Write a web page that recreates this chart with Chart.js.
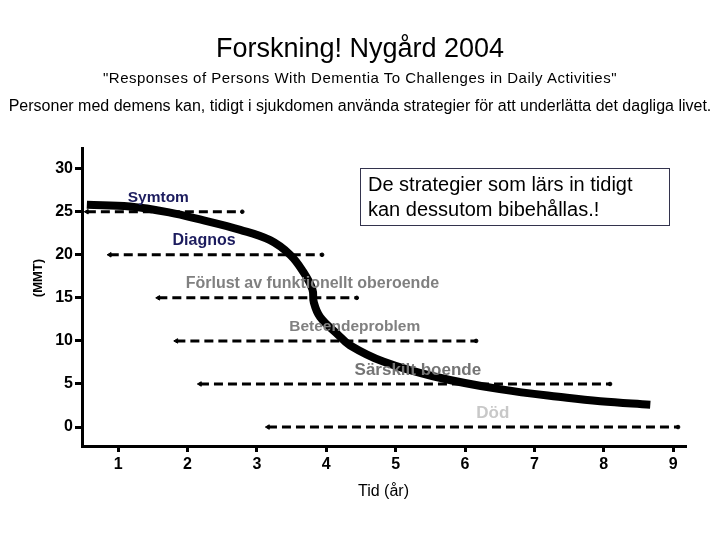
<!DOCTYPE html>
<html>
<head>
<meta charset="utf-8">
<script src="https://cdn.jsdelivr.net/npm/chart.js@4"></script>
<style>
    body { margin: 0; background: #fff; }
    #wrap { position: relative; width: 720px; height: 540px; font-family: "Liberation Sans", Arial, sans-serif; color: #000; }
    #wrap canvas { position: absolute; left: 0; top: 0; }
    .head { position: absolute; left: 0; width: 720px; text-align: center; white-space: nowrap; }
    #title { top: 33px; font-size: 27px; }
    #subtitle { top: 69px; font-size: 15px; letter-spacing: 0.5px; }
    #sentence { top: 97px; font-size: 16px; }
    #note { position: absolute; left: 360px; top: 168px; width: 301px; height: 53px; border: 1px solid #33334d;
            padding-left: 7px; font-size: 20px; line-height: 25px; padding-top: 3px; }
</style>
</head>
<body>
<div id="wrap">
    <canvas id="chart" width="720" height="540"></canvas>
    <div class="head" id="title">Forskning! Nygård 2004</div>
    <div class="head" id="subtitle">"Responses of Persons With Dementia To Challenges in Daily Activities"</div>
    <div class="head" id="sentence">Personer med demens kan, tidigt i sjukdomen använda strategier för att underlätta det dagliga livet.</div>
    <div id="note">De strategier som lärs in tidigt<br>kan dessutom bibehållas.!</div>
</div>
<script>
// axlar
const xTicks = [1, 2, 3, 4, 5, 6, 7, 8, 9];
const yTicks = [0, 5, 10, 15, 20, 25, 30];

// MMT-kurvan (år, poäng)
const curveX = [0.55, 1.17, 1.75, 2.18, 2.76, 3.19, 3.48, 3.67, 3.80, 3.82, 3.91, 4.16, 4.34, 4.82, 5.54, 6.50, 7.47, 7.95, 8.67];
const curveY = [25.8, 25.6, 24.9, 24.1, 22.9, 21.7, 20.0, 18.0, 16.0, 14.5, 12.8, 10.8, 9.5, 7.6, 5.9, 4.4, 3.4, 3.0, 2.6];

// faser (streckade pilar)
const phaseNames = ['Symtom', 'Diagnos', 'Förlust av funktionellt oberoende', 'Beteendeproblem', 'Särskilt boende', 'Död'];
const phaseLevel = [25, 20, 15, 10, 5, 0];
const phaseStart = [0.55, 0.88, 1.58, 1.84, 2.18, 3.16];
const phaseEnd = [2.79, 3.94, 4.44, 6.16, 8.09, 9.07];
const labelAt = [1.58, 2.24, 3.80, 4.41, 5.32, 6.40];

document.addEventListener('DOMContentLoaded', () => {
    const labelColors = ['#1c1c5e', '#1c1c5e', '#808080', '#808080', '#747474', '#c8c8c8'];
    const labelSizes = [15.5, 16, 16, 15.5, 17, 17];

    const phaseSets = phaseNames.map((name, i) => ({
        label: name,
        data: [{ x: phaseStart[i], y: phaseLevel[i] }, { x: phaseEnd[i], y: phaseLevel[i] }],
        borderColor: '#000',
        backgroundColor: '#000',
        borderWidth: 3,
        borderDash: [9, 5],
        pointStyle: ['triangle', 'circle'],
        pointRotation: [-90, 0],
        pointRadius: [2.6, 1.8],
        pointBorderWidth: 1,
        showLine: true,
        tension: 0
    }));

    const curveSet = {
        label: 'MMT',
        data: curveX.map((x, i) => ({ x: x, y: curveY[i] })),
        borderColor: '#000',
        borderWidth: 8,
        borderCapStyle: 'butt',
        pointRadius: 0,
        showLine: true,
        tension: 0.4
    };

    // etiketter ovanför pilarna + y-axelns titel
    const phaseLabels = {
        id: 'phaseLabels',
        afterDatasetsDraw(chart) {
            const ctx = chart.ctx;
            const xs = chart.scales.x, ys = chart.scales.y;
            ctx.save();
            ctx.textAlign = 'center';
            ctx.textBaseline = 'middle';
            phaseNames.forEach((name, i) => {
                ctx.font = `bold ${labelSizes[i]}px "Liberation Sans", Arial, sans-serif`;
                ctx.fillStyle = labelColors[i];
                ctx.fillText(name, xs.getPixelForValue(labelAt[i]), ys.getPixelForValue(phaseLevel[i]) - 14);
            });
            ctx.translate(38, 278);
            ctx.rotate(-Math.PI / 2);
            ctx.font = 'bold 13px "Liberation Sans", Arial, sans-serif';
            ctx.fillStyle = '#000';
            ctx.fillText('(MMT)', 0, 0);
            ctx.restore();
        }
    };

    new Chart(document.getElementById('chart'), {
        type: 'scatter',
        data: { datasets: [...phaseSets, curveSet] },
        options: {
            responsive: false,
            animation: false,
            layout: { padding: { top: 148, right: 35, left: 0, bottom: 0 } },
            plugins: { legend: { display: false }, tooltip: { enabled: false } },
            scales: {
                x: {
                    type: 'linear',
                    min: 0.48,
                    max: 9.17,
                    afterBuildTicks: s => { s.ticks = xTicks.map(v => ({ value: v })); },
                    afterFit: s => { s.height = 94; },
                    border: { display: true, color: '#000', width: 3 },
                    grid: { drawOnChartArea: false, drawTicks: true, tickLength: 6, color: '#000', lineWidth: 3 },
                    ticks: { color: '#000', padding: 3, font: { size: 16, weight: 'bold', family: '"Liberation Sans", Arial' } },
                    title: { display: true, text: 'Tid (år)', color: '#000', padding: { bottom: 39 }, font: { size: 16, family: '"Liberation Sans", Arial' } }
                },
                y: {
                    type: 'linear',
                    min: -2.2,
                    max: 32.4,
                    afterBuildTicks: s => { s.ticks = yTicks.map(v => ({ value: v })); },
                    afterFit: s => { s.width = 82; },
                    border: { display: true, color: '#000', width: 3 },
                    grid: { drawOnChartArea: false, drawTicks: true, tickLength: 7, color: '#000', lineWidth: 3 },
                    ticks: { color: '#000', padding: 2, font: { size: 16, weight: 'bold', family: '"Liberation Sans", Arial' } }
                }
            }
        },
        plugins: [phaseLabels]
    });
});
</script>
</body>
</html>
